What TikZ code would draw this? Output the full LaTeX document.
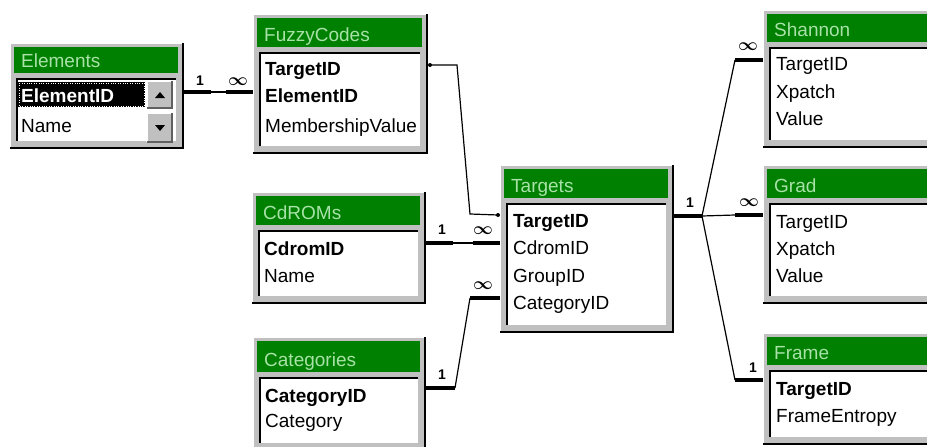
\documentclass[tikz,border=0pt]{standalone}
\usepackage{fontspec}
\setmainfont{Liberation Sans}
\usetikzlibrary{calc}

\definecolor{accgreen}{RGB}{0,128,0}
\definecolor{acctext}{RGB}{168,226,168}
\definecolor{accgray}{RGB}{192,192,192}
\definecolor{accdark}{RGB}{96,96,96}

\tikzset{
  fld/.style={anchor=base west, inner sep=0pt, font=\fontsize{19}{22}\selectfont},
  key/.style={fld, font=\fontsize{19}{22}\selectfont\bfseries},
  ttl/.style={anchor=base west, inner sep=0pt, text=acctext, font=\fontsize{19}{22}\selectfont},
  bar/.style={line width=4.5pt},
  wire/.style={line width=1.2pt},
  one/.style={inner sep=0pt, font=\fontsize{14}{14}\selectfont\bfseries},
  many/.style={inner sep=0pt, font=\fontsize{17}{17}\selectfont\boldmath},
}

% table frame: name, x0, y0, x1, y1, bottom of title bar, title
\newcommand{\dbtable}[7]{%
  \fill[accgray] (#2,#3) rectangle (#4,#5);
  \draw[white,line width=1.5pt] (#2,#5) |- (#4,#3);
  \draw[black,line width=2.5pt] (#2,#5) -| (#4,#3);
  \fill[accgreen] (#2+4,#3+4) rectangle (#4-5,#6);
  \node[ttl] (#1) at (#2+11,#6-6) {#7};
  \fill[white] (#2+6,#6+5) rectangle (#4-7,#5-7);
  \draw[black,line width=2pt] (#2+7,#5-7) |- (#4-7,#6+6);
}

\begin{document}
\begin{tikzpicture}[x=1pt,y=-1pt]
  \useasboundingbox (0,0) rectangle (927,447);
  \clip (0,0) rectangle (927,447);

  % tables
  \dbtable{elements}{10}{43}{183}{148}{73}{Elements}
  \fill[black] (18,82) rectangle (145,107);
  \draw[white,dotted] (19,83) rectangle (144,106);
  \node[key,text=white] (el-ElementID) at (21,102) {ElementID};
  \node[fld] (el-Name) at (21,132) {Name};
  \foreach \ya/\yb in {81/108,113/142}{
    \fill[accgray] (147,\ya) rectangle (172,\yb);
    \draw[white,line width=1.5pt] (147,\yb) |- (172,\ya);
    \draw[accdark,line width=1.5pt] (147,\yb) -| (172,\ya);
  }
  \fill (155,98) -- (165,98) -- (160,92) -- cycle;
  \fill (155,125) -- (165,125) -- (160,131) -- cycle;

  \dbtable{fuzzy}{253}{14}{427}{153}{47}{FuzzyCodes}
  \node[key] (fz-TargetID) at (265,75) {TargetID};
  \node[key] (fz-ElementID) at (265,102) {ElementID};
  \node[fld] (fz-Value) at (265,132) {MembershipValue};

  \dbtable{cdroms}{252}{192}{425}{303}{225}{CdROMs}
  \node[key] (cd-CdromID) at (264,255) {CdromID};
  \node[fld] (cd-Name) at (264,282) {Name};

  \dbtable{categories}{253}{337}{425}{450}{372}{Categories}
  \node[key] (ca-CategoryID) at (265,402) {CategoryID};
  \node[fld] (ca-Category) at (265,427) {Category};

  \dbtable{targets}{500}{165}{673}{332}{198}{Targets}
  \node[key] (tg-TargetID) at (513,227) {TargetID};
  \node[fld] (tg-CdromID) at (513,254) {CdromID};
  \node[fld] (tg-GroupID) at (513,282) {GroupID};
  \node[fld] (tg-CategoryID) at (513,309) {CategoryID};

  \dbtable{shannon}{763}{10}{945}{147}{42}{Shannon}
  \node[fld] (sh-TargetID) at (776,70) {TargetID};
  \node[fld] (sh-Xpatch) at (776,98) {Xpatch};
  \node[fld] (sh-Value) at (776,125) {Value};

  \dbtable{grad}{763}{165}{945}{303}{198}{Grad}
  \node[fld] (gr-TargetID) at (776,228) {TargetID};
  \node[fld] (gr-Xpatch) at (776,255) {Xpatch};
  \node[fld] (gr-Value) at (776,282) {Value};

  \dbtable{frame}{763}{333}{945}{444}{365}{Frame}
  \node[key] (fr-TargetID) at (776,395) {TargetID};
  \node[fld] (fr-Entropy) at (776,422) {FrameEntropy};

  % relationships
  \coordinate (elR) at (183,92);
  \coordinate (elA) at (211,92);
  \coordinate (fzA) at (226,92);
  \coordinate (fzL) at (253,92);
  \draw[bar] (elR) -- (elA);
  \draw[wire] (elA) -- (fzA);
  \draw[bar] (fzA) -- (fzL);
  \node[one] at (200,81) {1};
  \node[many] at (238,82) {$\infty$};

  \coordinate (fzR) at (430,65);
  \coordinate (fzB) at (457,65);
  \coordinate (tgB) at (470,214);
  \coordinate (tgL) at (498,215);
  \draw[wire] (fzR) -- (fzB) -- (tgB) -- (tgL);
  \fill (fzR) circle (2);
  \fill (tgL) circle (2);

  \coordinate (cdR) at (425,243);
  \coordinate (cdA) at (453,243);
  \coordinate (tgA) at (473,243);
  \coordinate (tgC) at (500,243);
  \draw[bar] (cdR) -- (cdA);
  \draw[wire] (cdA) -- (tgA);
  \draw[bar] (tgA) -- (tgC);
  \node[one] at (442,230) {1};
  \node[many] at (483,231) {$\infty$};

  \coordinate (caR) at (425,388);
  \coordinate (caA) at (455,388);
  \coordinate (tgD) at (470,298);
  \coordinate (tgE) at (500,298);
  \draw[bar] (caR) -- (caA);
  \draw[wire] (caA) -- (tgD);
  \draw[bar] (tgD) -- (tgE);
  \node[one] at (442,375) {1};
  \node[many] at (483,286) {$\infty$};

  \coordinate (tgR) at (673,216);
  \coordinate (hub) at (702,216);
  \draw[bar] (tgR) -- (hub);
  \node[one] at (690,203) {1};
  \foreach \yy in {60,215,380}{
    \draw[wire] (hub) -- (735,\yy);
    \draw[bar] (735,\yy) -- (763,\yy);
  }
  \node[many] at (748,47) {$\infty$};
  \node[many] at (749,203) {$\infty$};
  \node[one] at (753,368) {1};
\end{tikzpicture}
\end{document}
